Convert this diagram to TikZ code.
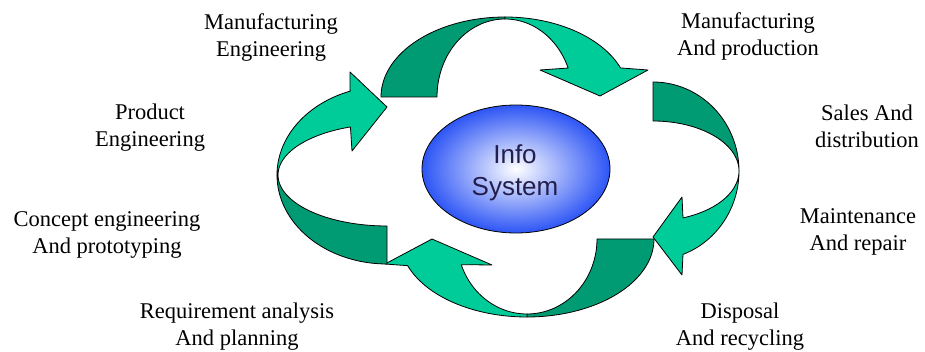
\documentclass[tikz,border=0pt]{standalone}
\usepackage{fontspec}
\setmainfont{Liberation Serif}
\newfontfamily\infofont{Liberation Sans}
\usetikzlibrary{shapes.geometric}
\definecolor{ribdark}{RGB}{0,155,115}
\definecolor{riblight}{RGB}{0,204,153}
\definecolor{ellblue}{RGB}{45,85,245}
\definecolor{infotext}{RGB}{35,30,75}
\begin{document}
\begin{tikzpicture}[x=1pt,y=-1pt,
  darkpart/.style={fill=ribdark,draw=black,line width=0.8pt,line join=round},
  lightpart/.style={fill=riblight,draw=black,line width=0.8pt,line join=round},
  lbl/.style={align=center,font=\fontsize{22.5}{27}\selectfont,inner sep=0pt,text=black},
  pl/.style={domain=#1,samples=45}]
\path[fill=white] (0,0) rectangle (925,352);
\useasboundingbox (0,0) rectangle (925,352);
% top arrow, centre (505,97)
\path[darkpart] plot[pl=180:270] ({505+124*cos(\x)},{97+80*sin(\x)})
  -- plot[pl=270:180] ({505+68*cos(\x)},{97+78*sin(\x)}) -- cycle;
\path[lightpart] plot[pl=270:338.7] ({505+124*cos(\x)},{97+80*sin(\x)})
  -- (648,70) -- (600,96) -- (540,70)
  -- plot[pl=338.2:270] ({505+68*cos(\x)},{97+78*sin(\x)}) -- cycle;
% right arrow, centre (653,171)
\path[darkpart] plot[pl=270:360] ({653+86*cos(\x)},{171+89*sin(\x)})
  -- plot[pl=360:270] ({653+86*cos(\x)},{171+50*sin(\x)}) -- cycle;
\path[lightpart] plot[pl=0:69.6] ({653+86*cos(\x)},{171+89*sin(\x)})
  -- (682,275) -- (653,237) -- (682,197)
  -- plot[pl=69.6:0] ({653+86*cos(\x)},{171+50*sin(\x)}) -- cycle;
% bottom arrow, centre (527,239)
\path[darkpart] plot[pl=0:90] ({527+127*cos(\x)},{239+78*sin(\x)})
  -- plot[pl=90:0] ({527+70*cos(\x)},{239+75*sin(\x)}) -- cycle;
\path[lightpart] plot[pl=90:160] ({527+127*cos(\x)},{239+78*sin(\x)})
  -- (385,264) -- (432,239) -- (492,265)
  -- plot[pl=160:90] ({527+70*cos(\x)},{239+75*sin(\x)}) -- cycle;
% left arrow, centre (387,175)
\path[darkpart] plot[pl=90:180] ({387+110*cos(\x)},{175+89*sin(\x)})
  -- plot[pl=180:90] ({387+109*cos(\x)},{175+51*sin(\x)}) -- cycle;
\path[lightpart] plot[pl=180:250.4] ({387+110*cos(\x)},{175+89*sin(\x)})
  -- (350,72) -- (387,107) -- (352,151)
  -- plot[pl=250.4:180] ({387+109*cos(\x)},{175+51*sin(\x)}) -- cycle;
% centre
\node[ellipse,draw=black,line width=0.8pt,inner color=white,outer color=ellblue,
  minimum width=188pt,minimum height=128pt,inner sep=0pt] (info) at (516,169) {};
\node[align=center,inner sep=0pt,font=\infofont\fontsize{26}{32}\selectfont,text=infotext]
  (infotxt) at (515,172.5) {Info\\System};
% labels
\node[lbl] (manueng) at (271,37.5) {Manufacturing\\Engineering};
\node[lbl] (prodeng) at (150,127.5) {Product\\Engineering};
\node[lbl] (concept) at (107,234.5) {Concept engineering\\And prototyping};
\node[lbl] (require) at (237,326.5) {Requirement analysis\\And planning};
\node[lbl] (manuprod) at (748,36.5) {Manufacturing\\And production};
\node[lbl] (sales) at (867,126) {Sales And\\distribution};
\node[lbl] (maint) at (858,231.5) {Maintenance\\And repair};
\node[lbl] (dispose) at (740,326.5) {Disposal\\And recycling};
\end{tikzpicture}
\end{document}
